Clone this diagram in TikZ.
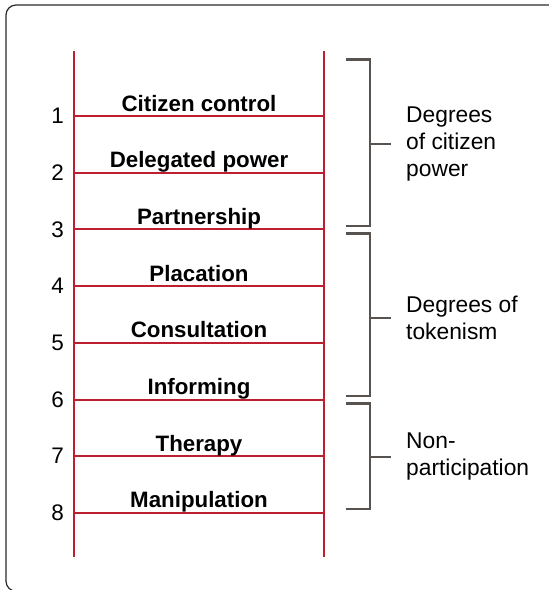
\documentclass[tikz,border=0pt]{standalone}
\usepackage{fontspec}
\setmainfont{Liberation Sans}
\usepackage{xcolor}

\begin{document}
\begin{tikzpicture}[x=1pt,y=-1pt,
  rail/.style={draw=ladderred,line width=2pt},
  bracket/.style={draw=bracketgray,line width=2.4pt},
  rungtext/.style={anchor=base,inner sep=0,font=\fontsize{22.3}{26}\selectfont\bfseries},
  numtext/.style={anchor=east,inner sep=0,font=\fontsize{22.5}{26}\selectfont},
  grouptext/.style={anchor=west,align=left,inner sep=0,font=\fontsize{22.8}{27}\selectfont}]
\definecolor{ladderred}{HTML}{BE1E2D}
\definecolor{bracketgray}{HTML}{595350}
\definecolor{framegray}{HTML}{2A2A2A}
\useasboundingbox (0,0) rectangle (549,590);
\begin{scope}
  \clip (0,0) rectangle (549,590);
  \draw[framegray,line width=1.2pt,rounded corners=10pt] (6,5) rectangle (580,591.2);
\end{scope}
% ladder rails
\coordinate (lt) at (74,51);  \coordinate (lb) at (74,557);
\coordinate (rt) at (324,51); \coordinate (rb) at (324,557);
\draw[rail] (lt) -- (lb);
\draw[rail] (rt) -- (rb);
% rungs with their labels
\foreach \n/\lbl in {1/Citizen control,2/Delegated power,3/Partnership,4/Placation,
                     5/Consultation,6/Informing,7/Therapy,8/Manipulation}
{ \pgfmathsetmacro\y{116+56.7*(\n-1)}
  \coordinate (l\n) at (74,\y);
  \coordinate (r\n) at (324,\y);
  \draw[rail] (l\n) -- (r\n);
  \node[numtext] (num\n) at (64,\y) {\n};
  \node[rungtext] (rung\n) at (199,\y-5) {\lbl};}
% brackets
\foreach \g/\top/\bot/\mid/\txt in {a/59.3/225.7/144/{Degrees\\of citizen\\power},
                                   b/233.3/395.7/317.7/{Degrees of\\tokenism},
                                   c/403.3/509/456.7/{Non-\\participation}}
{ \coordinate (\g top) at (346,\top);
  \coordinate (\g bot) at (346,\bot);
  \coordinate (\g mid) at (370,\mid);
  \coordinate (\g tick) at (391,\mid);
  \draw[bracket] (\g top) -| (\g mid) |- (\g bot);
  \draw[bracket] (\g mid) -- (\g tick);
  \node[grouptext] (group\g) at (406,\mid) {\txt};}
\end{tikzpicture}
\end{document}
